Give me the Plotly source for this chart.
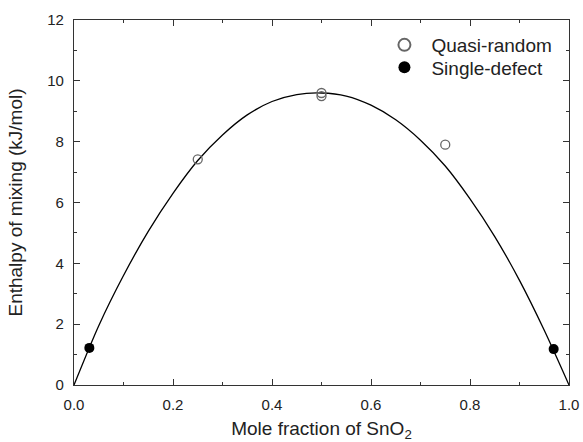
import plotly.graph_objects as go

# Fitted curve
curve_x = [0.0, 0.05, 0.10, 0.15, 0.20, 0.25, 0.30, 0.35, 0.40, 0.45, 0.50,
           0.55, 0.60, 0.65, 0.70, 0.75, 0.80, 0.85, 0.90, 0.95, 1.0]
curve_y = [0.0, 1.95, 3.60, 5.05, 6.30, 7.38, 8.22, 8.88, 9.32, 9.55, 9.60,
           9.50, 9.20, 8.72, 8.05, 7.20, 6.12, 4.88, 3.44, 1.80, 0.0]

# Quasi-random data
qr_x = [0.25, 0.5, 0.5, 0.75]
qr_y = [7.42, 9.50, 9.60, 7.90]

# Single-defect data
sd_x = [0.031, 0.969]
sd_y = [1.22, 1.18]

FONT = "Liberation Sans, Arial"
TXT = "#222222"

fig = go.Figure()
fig.add_trace(go.Scatter(x=curve_x, y=curve_y, mode="lines",
                         line=dict(color="black", width=1.3, shape="spline", smoothing=0.8),
                         showlegend=False, hoverinfo="skip"))
fig.add_trace(go.Scatter(x=qr_x, y=qr_y, mode="markers", name="Quasi-random", legend="legend",
                         marker=dict(symbol="circle-open", size=9, color="#666666", line=dict(width=1.3))))
fig.add_trace(go.Scatter(x=sd_x, y=sd_y, mode="markers", name="Single-defect", legend="legend2",
                         marker=dict(symbol="circle", size=10, color="black")))

axis_common = dict(showline=True, linecolor="#333333", linewidth=1.3, mirror="ticks",
                   ticks="inside", ticklen=6, tickwidth=1.2, tickcolor="#333333",
                   showgrid=False, zeroline=False, automargin=False,
                   ticklabelstandoff=6,
                   tickfont=dict(family=FONT, size=15, color=TXT))

fig.update_xaxes(range=[0, 1.0], dtick=0.2, tickformat=".1f",
                 minor=dict(dtick=0.1, ticks="inside", ticklen=3, tickwidth=1.2, tickcolor="#333333"),
                 title=dict(text="Mole fraction of SnO<sub>2</sub>", font=dict(family=FONT, size=19, color=TXT), standoff=10),
                 **axis_common)
fig.update_yaxes(range=[0, 12], dtick=2,
                 minor=dict(dtick=1, ticks="inside", ticklen=3, tickwidth=1.2, tickcolor="#333333"),
                 title=dict(text="Enthalpy of mixing (kJ/mol)", font=dict(family=FONT, size=19, color=TXT), standoff=19),
                 **axis_common)

leg_common = dict(xanchor="left", yanchor="middle", bgcolor="rgba(0,0,0,0)",
                  font=dict(family=FONT, size=19, color=TXT),
                  itemsizing="constant", itemwidth=44)

fig.update_layout(
    width=583, height=442,
    margin=dict(l=74, r=14, t=20, b=57),
    plot_bgcolor="white", paper_bgcolor="white",
    legend=dict(x=0.613, y=(385 - 45) / 365, **leg_common),
    legend2=dict(x=0.613, y=(385 - 67.5) / 365, **leg_common),
)

fig.write_html("out.html", config={"displayModeBar": False},
               post_script="document.body.style.margin='0';document.body.style.padding='0';")
